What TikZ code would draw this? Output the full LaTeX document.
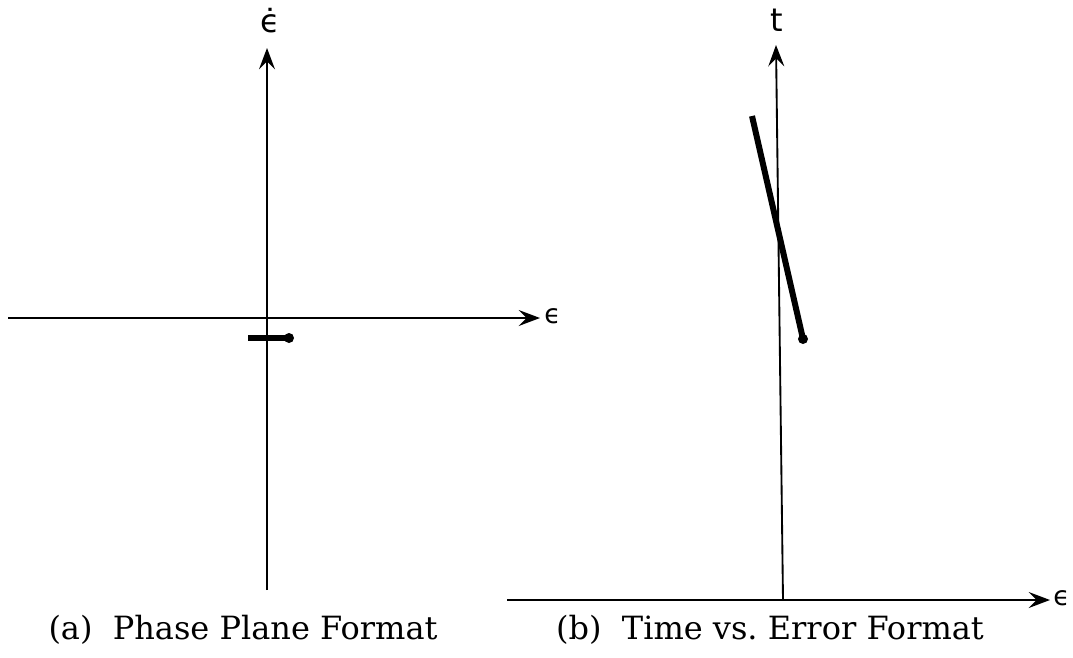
\documentclass[tikz,border=0pt]{standalone}
\usepackage{fontspec}
\setmainfont{DejaVu Serif}
\newfontfamily\lblfont{DejaVu Sans}
\usetikzlibrary{arrows.meta}
\begin{document}
\begin{tikzpicture}[x=0.75pt,y=-0.75pt,
  axis/.style={line width=1.4pt,-{Stealth[length=16pt,width=12pt,inset=6pt]}},
  trace/.style={line width=4.5pt},
  enddot/.style={circle,fill,inner sep=0pt,minimum size=7.5pt},
  lbl/.style={inner sep=1pt,font=\lblfont\fontsize{24}{28}\selectfont},
  xlbl/.style={inner sep=0pt,anchor=west,font=\lblfont\fontsize{20}{24}\selectfont},
  captext/.style={inner sep=0pt,font=\fontsize{24}{28}\selectfont}]
\useasboundingbox (0,0) rectangle (1073,657);
% panel (a)
\coordinate (aB) at (267,590);
\coordinate (aT) at (267,48);
\coordinate (aL) at (8,318);
\coordinate (aR) at (540,318);
\draw[axis] (aB) -- (aT);
\draw[axis] (aL) -- (aR);
\node[lbl] (aY) at (270,24) {\ooalign{ϵ\cr\hidewidth˙\hidewidth\cr}};
\node[xlbl] (aX) at (544,316) {ϵ};
\coordinate (aS) at (248,338);
\node[enddot] (aE) at (289,338) {};
\draw[trace] (aS) -- (aE.center);
\node[captext] (capA) at (243,630) {(a)\ \ Phase Plane Format};
% panel (b)
\coordinate (bB) at (783,600);
\coordinate (bT) at (776,45);
\coordinate (bL) at (507,600);
\coordinate (bR) at (1050,600);
\draw[axis] (bB) -- (bT);
\draw[axis] (bL) -- (bR);
\node[lbl] (bY) at (777,20) {t};
\node[xlbl] (bX) at (1053,598) {ϵ};
\coordinate (bS) at (752,116);
\node[enddot] (bE) at (803,339) {};
\draw[trace] (bS) -- (bE.center);
\node[captext] (capB) at (770,630) {(b)\ \ Time vs.\ Error Format};
\end{tikzpicture}
\end{document}
